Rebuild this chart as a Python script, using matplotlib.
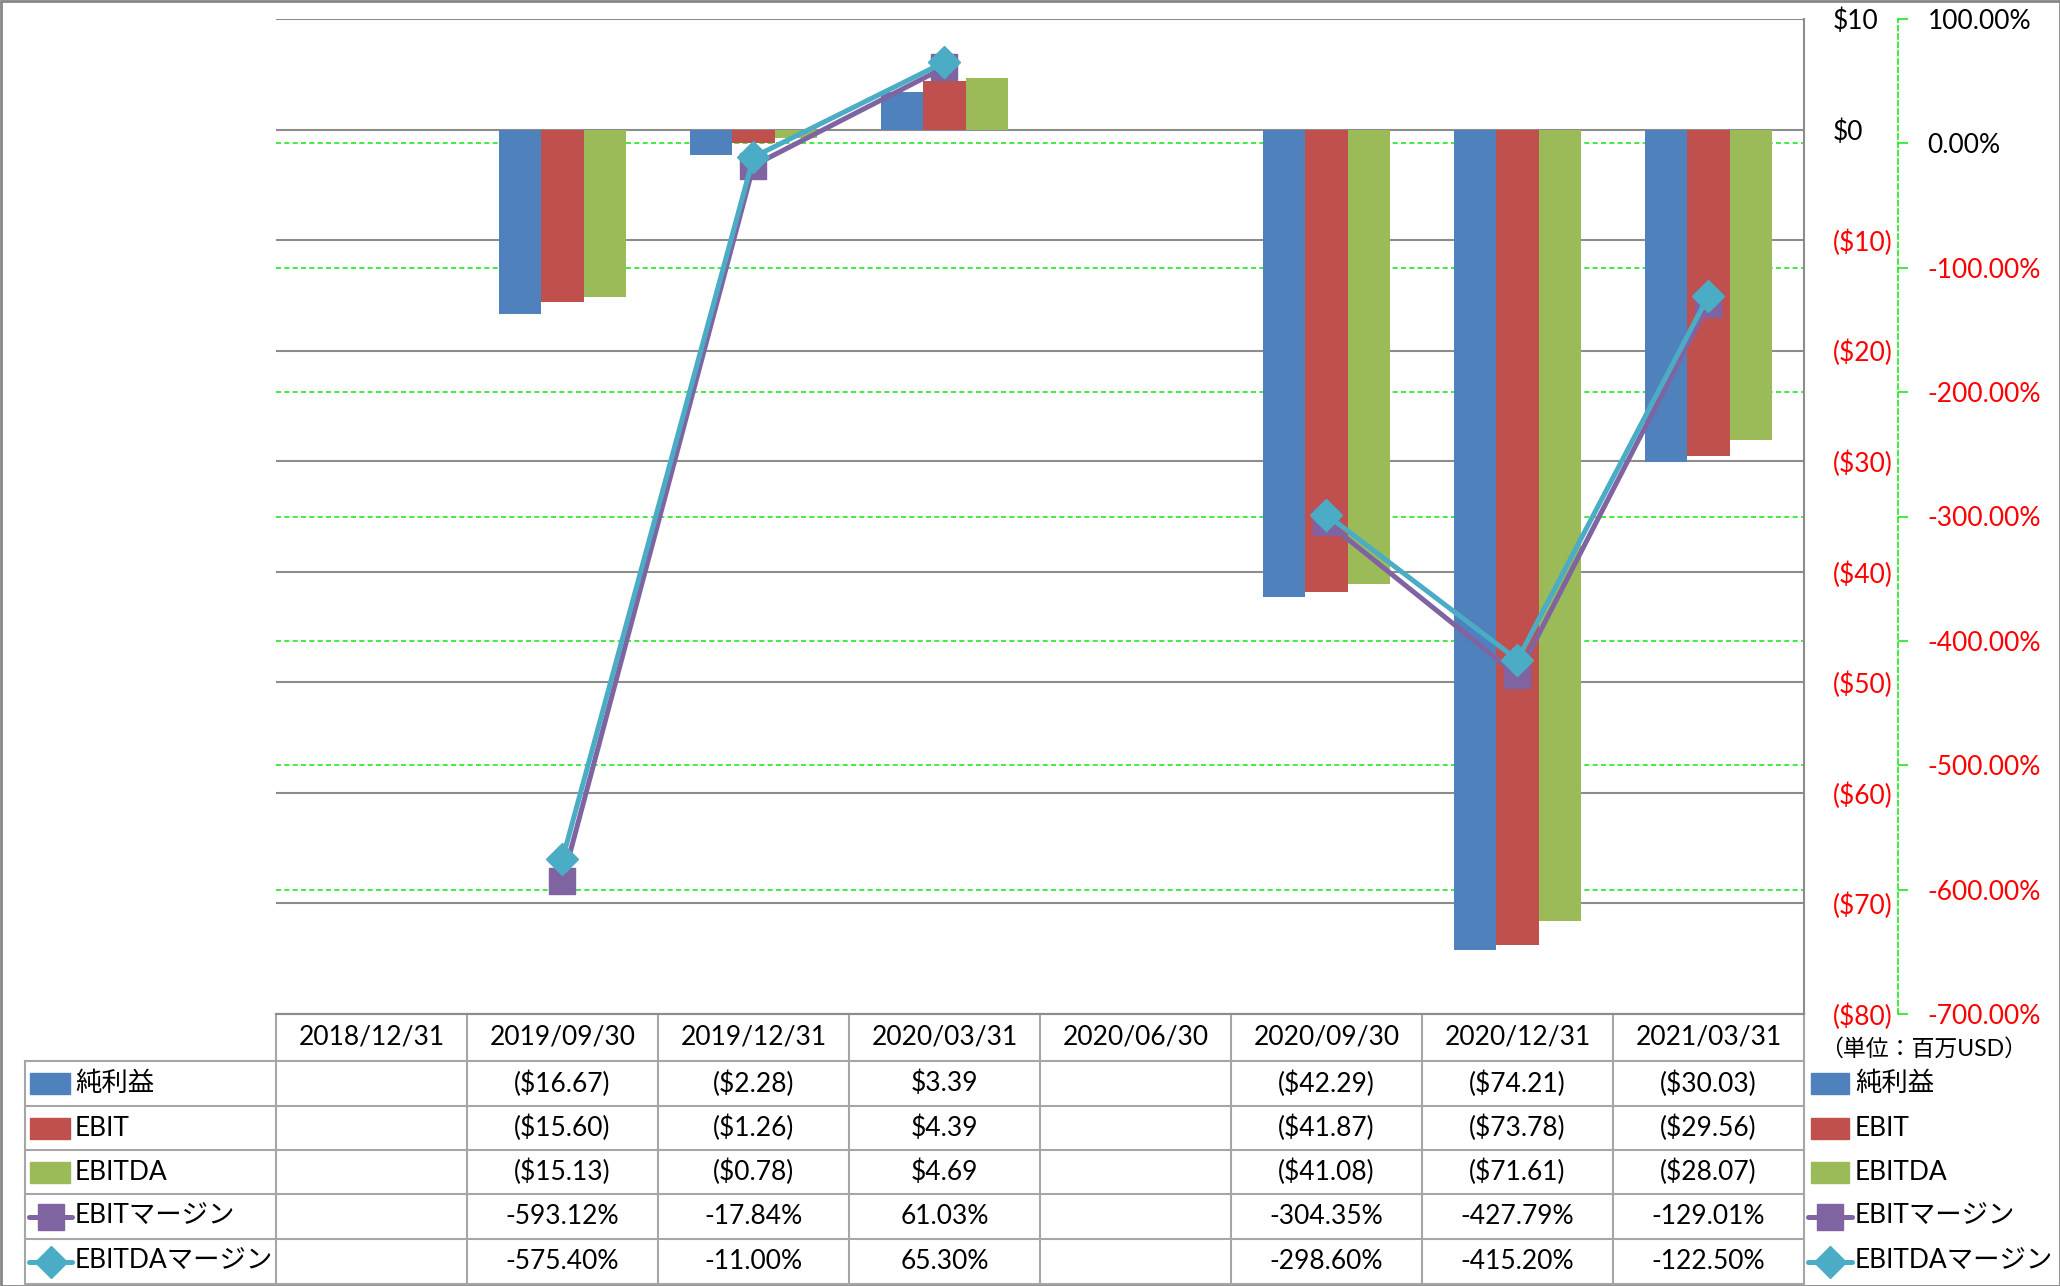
import numpy as np
import matplotlib
matplotlib.use('Agg')
import matplotlib.pyplot as plt
from matplotlib.patches import Rectangle
from matplotlib.lines import Line2D
from matplotlib.transforms import blended_transform_factory

plt.rcParams['font.family'] = ['Lato', 'Noto Sans CJK JP', 'DejaVu Sans']

# データ（単位：百万USD、マージンは%）
dates = ['2018/12/31', '2019/09/30', '2019/12/31', '2020/03/31',
         '2020/06/30', '2020/09/30', '2020/12/31', '2021/03/31']
net_income = [np.nan, -16.67, -2.28, 3.39, np.nan, -42.29, -74.21, -30.03]
ebit = [np.nan, -15.60, -1.26, 4.39, np.nan, -41.87, -73.78, -29.56]
ebitda = [np.nan, -15.13, -0.78, 4.69, np.nan, -41.08, -71.61, -28.07]
ebit_margin = [np.nan, -593.12, -17.84, 61.03, np.nan, -304.35, -427.79, -129.01]
ebitda_margin = [np.nan, -575.40, -11.00, 65.30, np.nan, -298.60, -415.20, -122.50]

bar_names = ['純利益', 'EBIT', 'EBITDA']
line_names = ['EBITマージン', 'EBITDAマージン']
bar_colors = ['#4F81BD', '#C0504D', '#9BBB59']
line_colors = ['#8064A2', '#4BACC6']
line_markers = ['s', 'D']
usd_ticks = [10, 0, -10, -20, -30, -40, -50, -60, -70, -80]
pct_ticks = [100, 0, -100, -200, -300, -400, -500, -600, -700]


def usd(v):
    return f'${v:.0f}' if v >= 0 else f'(${-v:.0f})'


def usd2(v):
    return f'${v:.2f}' if v >= 0 else f'(${-v:.2f})'


W, H = 2060, 1286
L, R, T, B = 276, 1804, 19, 1014
fig = plt.figure(figsize=(W / 100, H / 100), dpi=100)
pos = [L / W, 1 - B / H, (R - L) / W, (B - T) / H]
x = np.arange(len(dates))
grid_grey = '#8C8C8C'
green = '#22E622'
msize = {'s': 19, 'D': 16}

# 緑の破線グリッド（第2軸）は棒の後ろ
gax = fig.add_axes(pos, zorder=0)
gax.set_xlim(-0.5, len(dates) - 0.5)
gax.set_ylim(-700, 100)
gax.set_yticks(pct_ticks)
gax.grid(axis='y', color=green, ls=(0, (3, 2)), lw=1.2)
gax.tick_params(left=False, bottom=False, labelleft=False, labelbottom=False)
for s in gax.spines.values():
    s.set_visible(False)

ax = fig.add_axes(pos, zorder=1)
ax.patch.set_visible(False)
ax.set_xlim(-0.5, len(dates) - 0.5)
ax.set_ylim(-80, 10)
bw = 0.222
for i, (vals, c) in enumerate(zip([net_income, ebit, ebitda], bar_colors)):
    ax.bar(x + (i - 1) * bw, vals, bw, color=c, zorder=2)
ax.grid(axis='y', color=grid_grey, lw=1.5, zorder=0)
ax.set_axisbelow(True)
ax.set_xticks([])
for k in ['left', 'top']:
    ax.spines[k].set_visible(False)
ax.spines['right'].set_color(grid_grey)
ax.spines['right'].set_linewidth(1.5)
ax.spines['bottom'].set_color(grid_grey)
ax.spines['bottom'].set_linewidth(1.5)

ax2 = ax.twinx()
ax2.set_zorder(2)
ax2.patch.set_visible(False)
ax2.set_ylim(-700, 100)
for vals, c, m in zip([ebit_margin, ebitda_margin], line_colors, line_markers):
    ax2.plot(x, vals, color=c, lw=3.6, marker=m, ms=msize[m],
             mec=c, mfc=c, solid_joinstyle='round', zorder=3)
for k in ['left', 'top', 'bottom']:
    ax2.spines[k].set_visible(False)
ax2.spines['right'].set_position(('outward', 68))
ax2.spines['right'].set_color(green)
ax2.spines['right'].set_linestyle((0, (3, 2)))
ax2.spines['right'].set_linewidth(1.2)
ax2.tick_params(axis='y', direction='out', length=7, width=1.2, color=green,
                pad=14, labelsize=19)

# twinx で左に移った主軸ラベルを右へ戻す
ax.yaxis.set_ticks_position('right')
ax.tick_params(axis='y', length=0, pad=21, labelsize=19,
               labelright=True, labelleft=False)

# 目盛ラベル（負の値は赤）
ax.set_yticks(usd_ticks, labels=[usd(t) for t in usd_ticks])
for t, lab in zip(usd_ticks, ax.get_yticklabels()):
    lab.set_color('red' if t < 0 else 'black')
ax2.set_yticks(pct_ticks, labels=[f'{t:.2f}%' for t in pct_ticks])
for t, lab in zip(pct_ticks, ax2.get_yticklabels()):
    lab.set_color('red' if t < 0 else 'black')

# データテーブル
tr = blended_transform_factory(ax.transData, fig.transFigure)
ft = fig.transFigure
rows = [1014, 1061, 1106, 1150, 1194, 1239, 1284]
fy = [1 - r / H for r in rows]
lab_x0 = 25 / W
tcol = '#A6A6A6'
for y in fy:
    ax.add_line(Line2D([-0.5, len(dates) - 0.5], [y, y], transform=tr,
                       color=tcol, lw=1.5, clip_on=False))
for y in fy[1:]:
    fig.add_artist(Line2D([lab_x0, L / W], [y, y], transform=ft, color=tcol, lw=1.5))
fig.add_artist(Line2D([lab_x0, lab_x0], [fy[1], fy[-1]], transform=ft, color=tcol, lw=1.5))
for b in np.arange(len(dates) + 1) - 0.5:
    ax.add_line(Line2D([b, b], [fy[0], fy[-1]], transform=tr, color=tcol,
                       lw=1.5, clip_on=False))

for i, d in enumerate(dates):
    ax.text(i, (fy[0] + fy[1]) / 2, d, transform=tr, ha='center', va='center', fontsize=19)

table_vals = [[usd2(v) if not np.isnan(v) else '' for v in net_income],
              [usd2(v) if not np.isnan(v) else '' for v in ebit],
              [usd2(v) if not np.isnan(v) else '' for v in ebitda],
              [f'{v:.2f}%' if not np.isnan(v) else '' for v in ebit_margin],
              [f'{v:.2f}%' if not np.isnan(v) else '' for v in ebitda_margin]]
names = bar_names + line_names
for r, row in enumerate(table_vals):
    yc = (fy[r + 1] + fy[r + 2]) / 2
    for i, s in enumerate(row):
        ax.text(i, yc, s, transform=tr, ha='center', va='center', fontsize=19)


def legend_key(x0, x1, yc, r):
    if r < 3:
        fig.add_artist(Rectangle((x0 / W, yc - 10.5 / H), (x1 - x0) / W, 21 / H,
                                 transform=ft, color=bar_colors[r]))
    else:
        c = line_colors[r - 3]
        m = line_markers[r - 3]
        fig.add_artist(Line2D([x0 / W, x1 / W], [yc, yc], transform=ft, color=c,
                              lw=3.6, solid_capstyle='round'))
        fig.add_artist(Line2D([(x0 + x1) / 2 / W], [yc], transform=ft, marker=m,
                              ms=msize[m], color=c))


for r, n in enumerate(names):
    yc = (fy[r + 1] + fy[r + 2]) / 2
    legend_key(30 if r < 3 else 29, 70 if r < 3 else 72, yc, r)
    fig.text(75 / W, yc, n, ha='left', va='center', fontsize=19)
    legend_key(1811 if r < 3 else 1808, 1849 if r < 3 else 1852, yc, r)
    fig.text(1855 / W, yc, n, ha='left', va='center', fontsize=19)

fig.text(1820 / W, 1 - 1049 / H, '（単位：百万USD）', ha='left', va='center', fontsize=16.5)

# 外枠
fig.add_artist(Rectangle((0.5 / W, 0.5 / H), 1 - 1 / W, 1 - 1 / H, transform=ft,
                         fill=False, ec='#868686', lw=2))

plt.savefig('out.png', dpi=100)
